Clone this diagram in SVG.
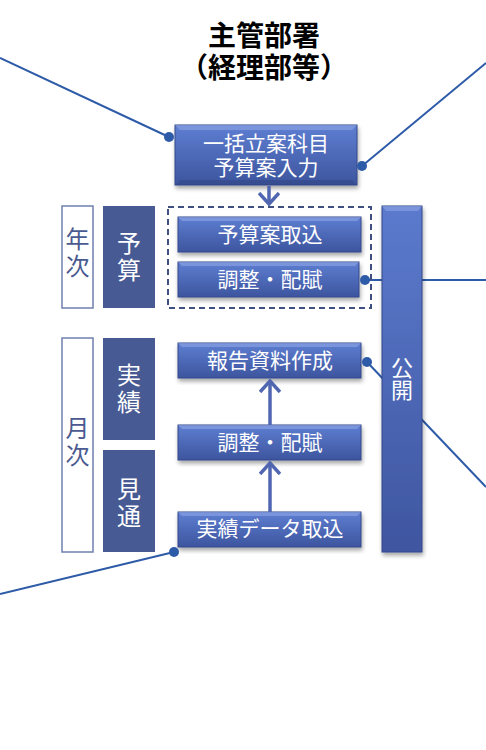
<svg xmlns="http://www.w3.org/2000/svg" width="486" height="750" viewBox="0 0 486 750">
<defs>
<linearGradient id="gBox" x1="0" y1="0" x2="0" y2="1">
<stop offset="0" stop-color="#5E7ED2"/>
<stop offset="1" stop-color="#3D559E"/>
</linearGradient>
<linearGradient id="gBar" x1="0" y1="0" x2="0" y2="1">
<stop offset="0" stop-color="#5B7ACD"/>
<stop offset="1" stop-color="#3F56A0"/>
</linearGradient>
<filter id="sh" x="-10%" y="-10%" width="125%" height="130%">
<feDropShadow dx="1" dy="3" stdDeviation="2" flood-color="#000" flood-opacity="0.35"/>
</filter>
<marker id="chev" viewBox="0 0 14 22" refX="12" refY="11" markerWidth="14" markerHeight="22" markerUnits="userSpaceOnUse" orient="auto">
<path d="M1,1 L12,11 L1,21" fill="none" stroke="#5066B0" stroke-width="3.5"/>
</marker>
</defs>
<style>
.box{fill:url(#gBox);stroke:#34488A;stroke-width:1;filter:url(#sh)}
.hl{fill:#8FA6E6;opacity:0.6}
.dk{fill:#2E427F;opacity:0.45}
.bt{font-family:"Noto Sans CJK JP","Noto Sans",sans-serif;font-size:21px;fill:#fff;text-anchor:middle;dominant-baseline:central}
.vt{font-family:"Noto Sans CJK JP","Noto Sans",sans-serif;font-size:24px;text-anchor:middle;writing-mode:vertical-rl;letter-spacing:3px}
.title{font-family:"Noto Sans CJK JP","Noto Sans",sans-serif;font-size:28px;font-weight:bold;fill:#000;text-anchor:middle;dominant-baseline:central}
.con{stroke:#2E5BA8;stroke-width:2;fill:none}
.dot{fill:#2E5BA8}
.arr{stroke:#5066B0;stroke-width:3.5;fill:none}
</style>

<g id="connectors">
<line class="con" x1="0" y1="58" x2="169" y2="137"/>
<line class="con" x1="486" y1="63" x2="362" y2="166"/>
<line class="con" x1="365" y1="280" x2="486" y2="280"/>
<line class="con" x1="367" y1="362" x2="486" y2="487"/>
<line class="con" x1="0" y1="594" x2="174" y2="552"/>
</g>

<g id="title">
<text class="title"><tspan x="264" y="34">主管部署</tspan><tspan x="264" y="66">（経理部等）</tspan></text>
</g>

<g id="n-input">
<rect class="box" x="175" y="125" width="182" height="60"/>
<polygon class="hl" points="175,125 357,125 352,130 180,130"/>
<polygon class="dk" points="175,185 357,185 352,180 180,180"/>
<text class="bt"><tspan x="266" y="142">一括立案科目</tspan><tspan x="266" y="166">予算案入力</tspan></text>
</g>

<g id="n-dash">
<rect x="168" y="207" width="203" height="101" fill="none" stroke="#3F4F80" stroke-width="2" stroke-dasharray="6,4"/>
</g>

<g id="n-year">
<rect x="62" y="206" width="31" height="102" fill="#fff" stroke="#6F7FAE" stroke-width="1.5"/>
<text class="vt" x="77.5" y="254" fill="#4A5A90">年次</text>
</g>
<g id="n-budget">
<rect x="103" y="206" width="52" height="102" fill="#475A93"/>
<text class="vt" x="129" y="258" fill="#fff">予算</text>
</g>
<g id="n-month">
<rect x="62" y="338" width="31" height="214" fill="#fff" stroke="#6F7FAE" stroke-width="1.5"/>
<text class="vt" x="77.5" y="443" fill="#4A5A90">月次</text>
</g>
<g id="n-actual">
<rect x="103" y="338" width="52" height="102" fill="#475A93"/>
<text class="vt" x="129" y="390" fill="#fff">実績</text>
</g>
<g id="n-forecast">
<rect x="103" y="450" width="52" height="102" fill="#475A93"/>
<text class="vt" x="129" y="504" fill="#fff">見通</text>
</g>

<g id="n-import">
<rect class="box" x="178" y="217" width="183" height="35"/>
<polygon class="hl" points="178,217 361,217 357,221 182,221"/>
<text class="bt" x="270" y="233">予算案取込</text>
</g>
<g id="n-adjust1">
<rect class="box" x="178" y="262" width="181" height="35"/>
<polygon class="hl" points="178,262 359,262 355,266 182,266"/>
<text class="bt" x="270" y="278">調整・配賦</text>
</g>
<g id="n-report">
<rect class="box" x="178" y="343" width="183" height="35"/>
<polygon class="hl" points="178,343 361,343 357,347 182,347"/>
<text class="bt" x="270" y="359">報告資料作成</text>
</g>
<g id="n-adjust2">
<rect class="box" x="178" y="425" width="183" height="35"/>
<polygon class="hl" points="178,425 361,425 357,429 182,429"/>
<text class="bt" x="270" y="441">調整・配賦</text>
</g>
<g id="n-data">
<rect class="box" x="178" y="512" width="183" height="35"/>
<polygon class="hl" points="178,512 361,512 357,516 182,516"/>
<text class="bt" x="270" y="527">実績データ取込</text>
</g>

<g id="n-publish">
<rect class="box" x="382" y="206" width="40" height="346" style="fill:url(#gBar)"/>
<polygon class="hl" points="382,206 422,206 418,211 386,211"/>
<text class="vt" x="402" y="379" fill="#fff" style="font-size:22px;letter-spacing:0">公開</text>
</g>

<g id="arrows">
<line class="arr" x1="269" y1="186" x2="269" y2="204" marker-end="url(#chev)"/>
<line class="arr" x1="270" y1="425" x2="270" y2="381" marker-end="url(#chev)"/>
<line class="arr" x1="270" y1="512" x2="270" y2="463" marker-end="url(#chev)"/>
</g>

<g id="dots">
<circle class="dot" cx="169" cy="137" r="5"/>
<circle class="dot" cx="362" cy="166" r="5"/>
<circle class="dot" cx="365" cy="280" r="5"/>
<circle class="dot" cx="367" cy="362" r="5"/>
<circle class="dot" cx="174" cy="552" r="5"/>
</g>
</svg>
